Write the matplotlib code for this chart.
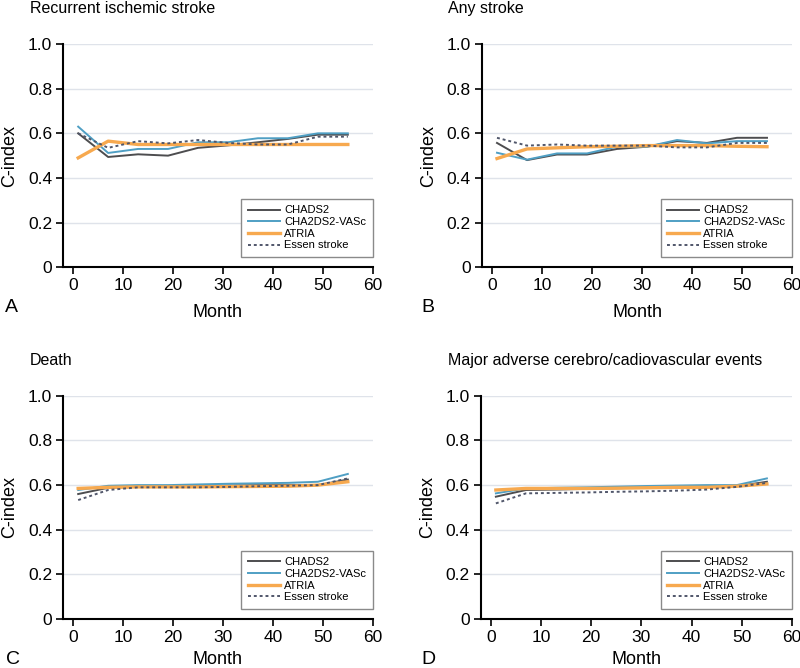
import numpy as np
import matplotlib
matplotlib.use('Agg')
import matplotlib.pyplot as plt

plt.rcParams['font.family'] = ['Liberation Sans', 'DejaVu Sans']

# follow-up months at which the C-index was computed
months = [1, 7, 13, 19, 25, 31, 37, 43, 49, 55]

series_names = ['CHADS2', 'CHA2DS2-VASc', 'ATRIA', 'Essen stroke']

# A - recurrent ischemic stroke
a_chads = [0.60, 0.494, 0.506, 0.50, 0.535, 0.546, 0.56, 0.575, 0.594, 0.594]
a_vasc = [0.63, 0.512, 0.53, 0.53, 0.56, 0.56, 0.578, 0.578, 0.60, 0.60]
a_atria = [0.49, 0.565, 0.55, 0.55, 0.55, 0.55, 0.55, 0.55, 0.55, 0.55]
a_essen = [0.60, 0.535, 0.565, 0.555, 0.57, 0.557, 0.55, 0.55, 0.585, 0.585]

# B - any stroke
b_chads = [0.557, 0.48, 0.505, 0.505, 0.53, 0.54, 0.565, 0.557, 0.58, 0.58]
b_vasc = [0.513, 0.482, 0.51, 0.51, 0.54, 0.54, 0.57, 0.555, 0.565, 0.565]
b_atria = [0.487, 0.53, 0.535, 0.54, 0.542, 0.545, 0.545, 0.545, 0.542, 0.54]
b_essen = [0.58, 0.545, 0.55, 0.545, 0.545, 0.545, 0.537, 0.537, 0.557, 0.557]

# C - death
c_chads = [0.56, 0.588, 0.592, 0.594, 0.596, 0.598, 0.60, 0.60, 0.60, 0.625]
c_vasc = [0.578, 0.597, 0.60, 0.60, 0.603, 0.606, 0.608, 0.61, 0.615, 0.65]
c_atria = [0.585, 0.59, 0.592, 0.592, 0.592, 0.593, 0.594, 0.595, 0.60, 0.615]
c_essen = [0.533, 0.578, 0.59, 0.59, 0.59, 0.592, 0.595, 0.597, 0.60, 0.63]

# D - major adverse cerebro/cardiovascular events
d_chads = [0.548, 0.578, 0.58, 0.583, 0.586, 0.589, 0.59, 0.592, 0.595, 0.615]
d_vasc = [0.563, 0.585, 0.588, 0.59, 0.593, 0.596, 0.598, 0.60, 0.60, 0.63]
d_atria = [0.578, 0.585, 0.585, 0.585, 0.586, 0.588, 0.59, 0.59, 0.595, 0.605]
d_essen = [0.518, 0.563, 0.565, 0.567, 0.57, 0.572, 0.575, 0.58, 0.592, 0.61]

titles = ['Recurrent ischemic stroke', 'Any stroke', 'Death',
          'Major adverse cerebro/cadiovascular events']
letters = ['A', 'B', 'C', 'D']
panel_data = [
    [a_chads, a_vasc, a_atria, a_essen],
    [b_chads, b_vasc, b_atria, b_essen],
    [c_chads, c_vasc, c_atria, c_essen],
    [d_chads, d_vasc, d_atria, d_essen],
]

colors = ['#4d4d4f', '#4f9fc4', '#f7a94f', '#50566a']
widths = [1.4, 1.4, 2.4, 1.4]
styles = ['-', '-', '-', (0, (1.5, 1.5))]

fig = plt.figure(figsize=(8, 6.68), dpi=100)

# axes boxes in figure fraction
boxes = [
    [0.079, 0.600, 0.387, 0.334],
    [0.6025, 0.600, 0.3875, 0.334],
    [0.079, 0.0734, 0.387, 0.334],
    [0.601, 0.0734, 0.389, 0.334],
]
title_pos = [(0.0375, 0.988), (0.56, 0.988), (0.0375, 0.4596), (0.56, 0.4596)]
letter_pos = [(0.006, 0.539), (0.527, 0.539), (0.008, 0.012), (0.527, 0.012)]
xlab_pad = [8, 8, 4, 4]

for i in range(4):
    ax = fig.add_axes(boxes[i])
    for j in range(4):
        ax.plot(months, panel_data[i][j], color=colors[j], lw=widths[j],
                ls=styles[j], label=series_names[j], zorder=3)
    ax.set_xlim(-2, 60)
    ax.set_ylim(0, 1.0)
    ax.set_xticks([0, 10, 20, 30, 40, 50, 60])
    ax.set_yticks([0, 0.2, 0.4, 0.6, 0.8, 1.0])
    ax.set_yticklabels(['0', '0.2', '0.4', '0.6', '0.8', '1.0'])
    for y in [0.2, 0.4, 0.6, 0.8, 1.0]:
        ax.axhline(y, color='#dfe3ea', lw=1.0, zorder=1)
    ax.spines['top'].set_visible(False)
    ax.spines['right'].set_visible(False)
    ax.spines['left'].set_linewidth(1.5)
    ax.spines['bottom'].set_linewidth(1.5)
    ax.tick_params(direction='out', length=5, width=1.2, labelsize=12.5, pad=3)
    ax.set_xlabel('Month', fontsize=13, labelpad=xlab_pad[i])
    ax.set_ylabel('C-index', fontsize=13, labelpad=7)
    leg = ax.legend(loc='lower right', bbox_to_anchor=(1.0, 0.045),
                    borderaxespad=0, fontsize=8, fancybox=False,
                    handlelength=2.9, handletextpad=0.35, labelspacing=0.15,
                    borderpad=0.6, framealpha=1)
    leg.get_frame().set_edgecolor('#8a8a8a')
    leg.get_frame().set_linewidth(1.0)
    fig.text(title_pos[i][0], title_pos[i][1], titles[i], fontsize=11.5,
             va='center', ha='left')
    fig.text(letter_pos[i][0], letter_pos[i][1], letters[i], fontsize=14,
             va='center', ha='left')

fig.savefig('out.png', dpi=100)
